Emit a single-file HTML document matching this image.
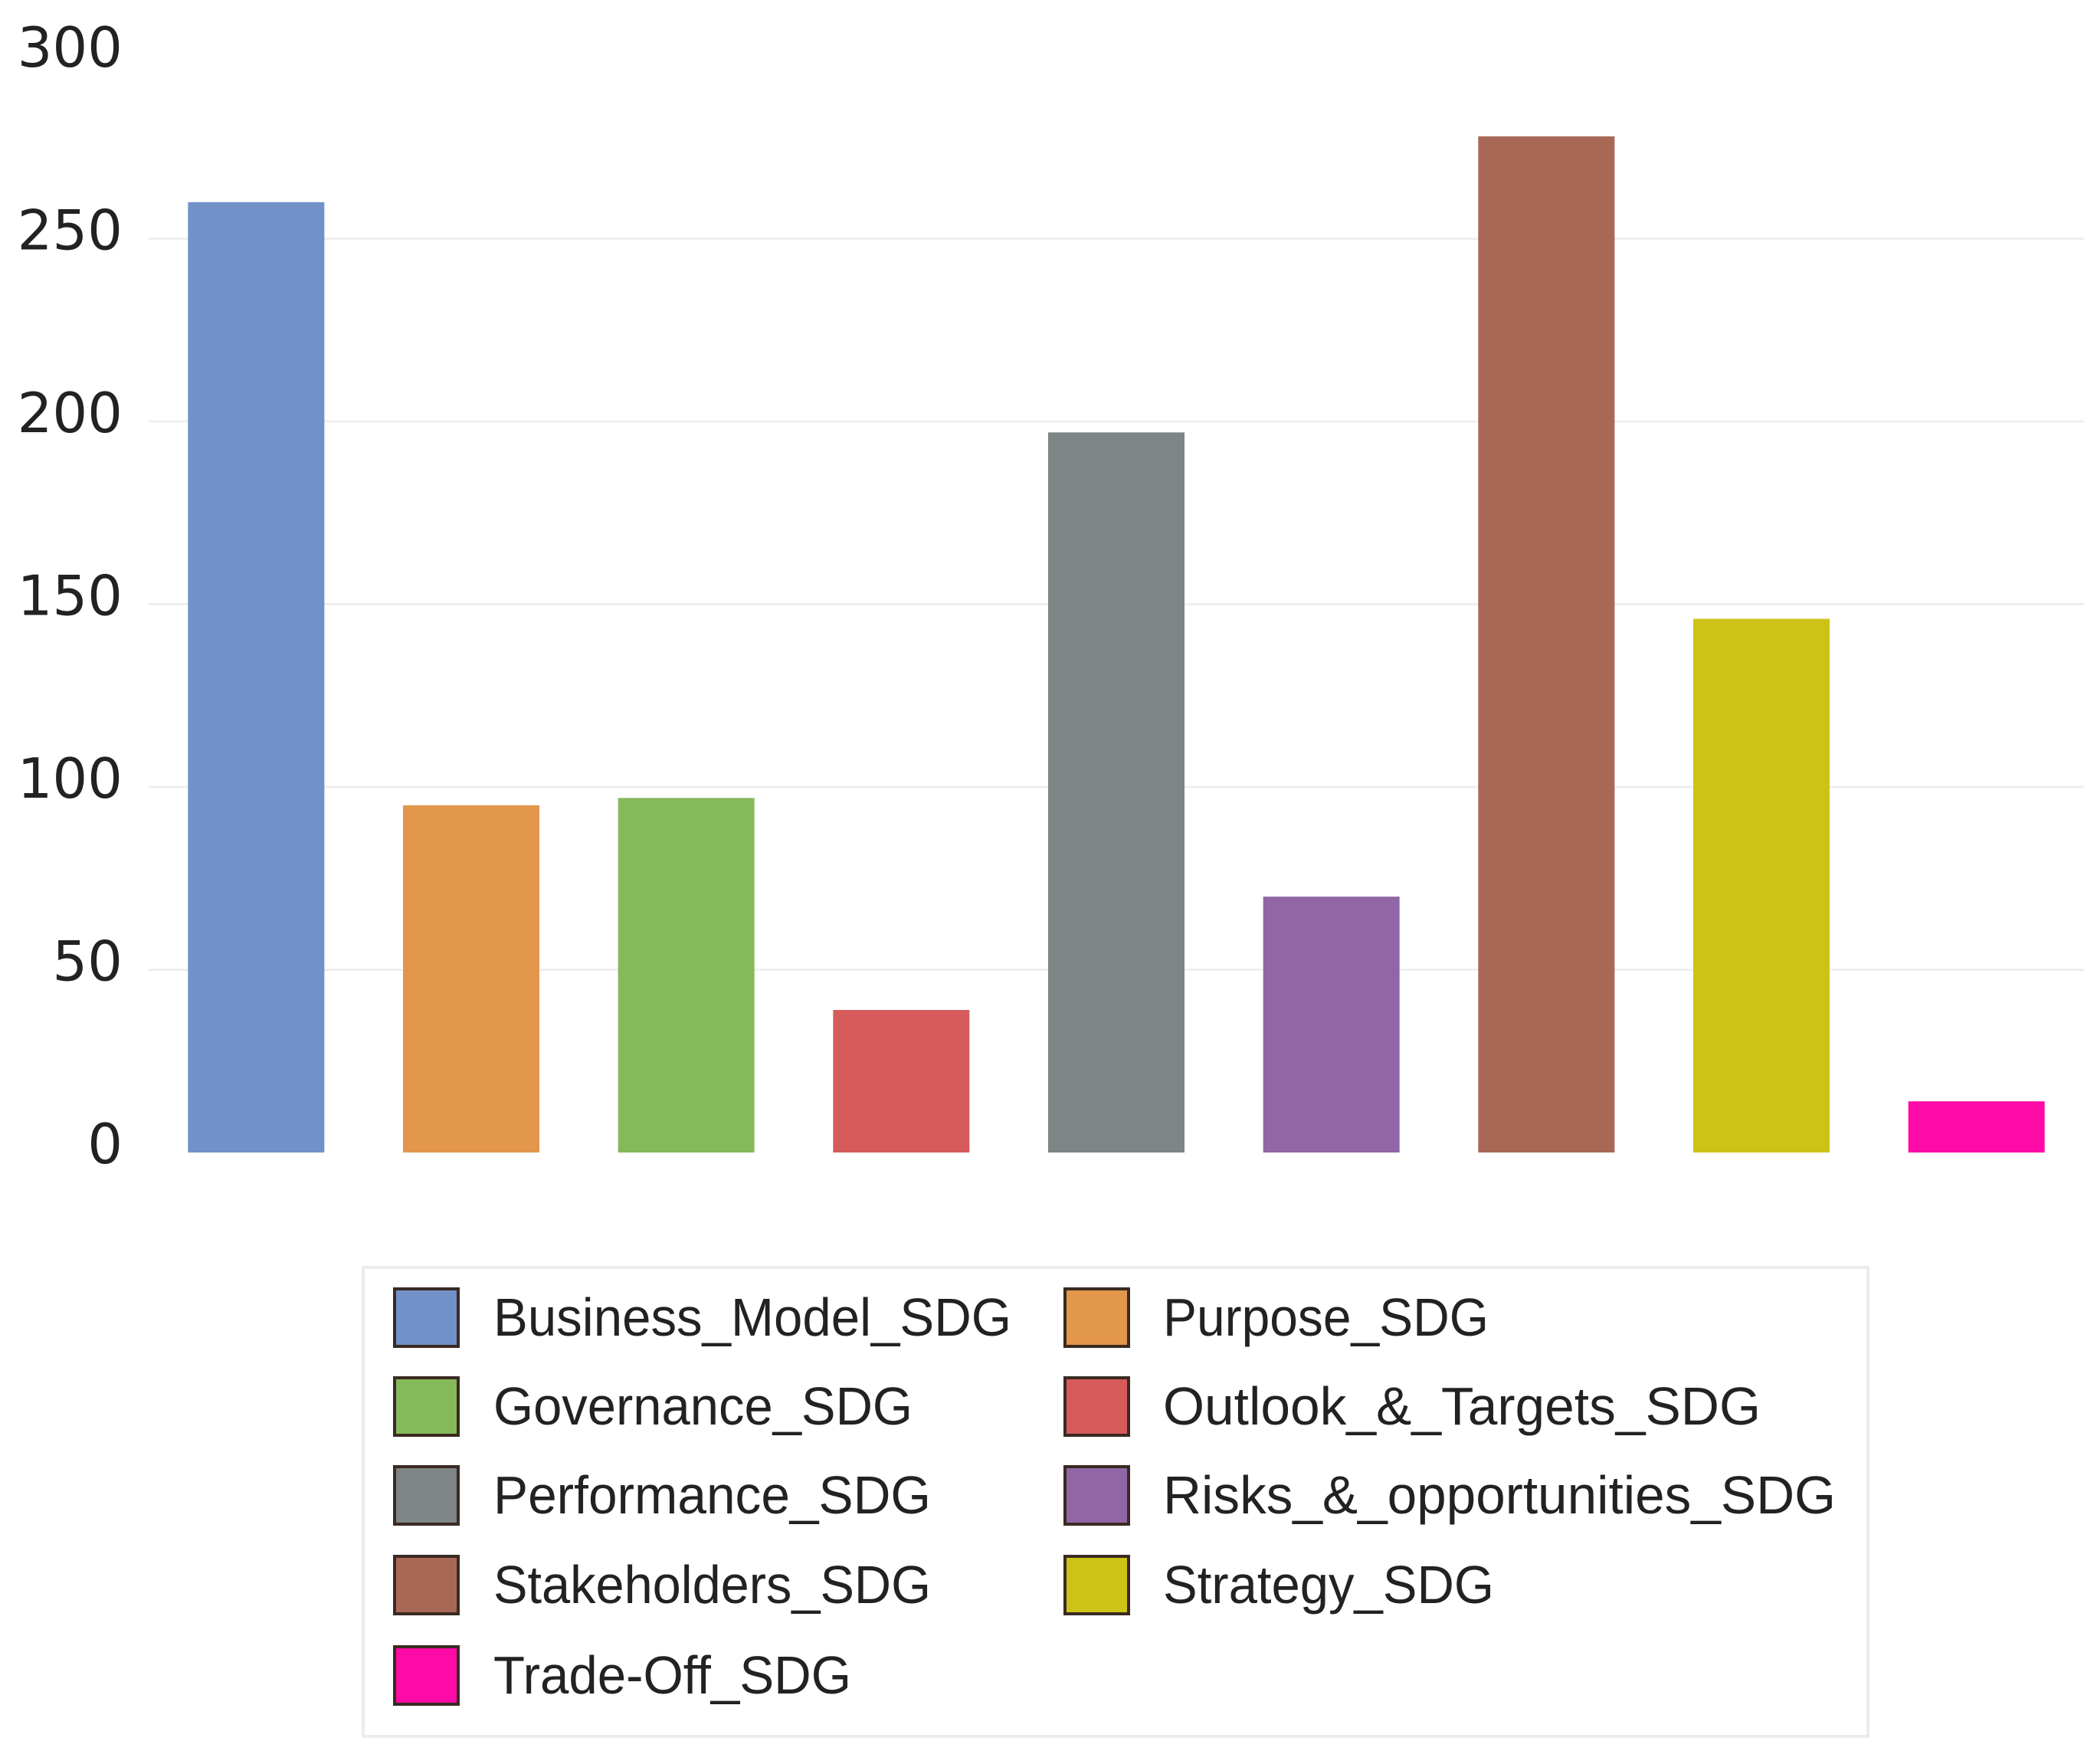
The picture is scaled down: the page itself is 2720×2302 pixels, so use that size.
<!DOCTYPE html>
<html><head><meta charset="utf-8"><style>
html,body{margin:0;padding:0;background:#fff;}
svg{display:block;}
</style></head><body>
<svg id="chart" width="2720" height="2302" viewBox="0 0 2720 2302" xmlns="http://www.w3.org/2000/svg">
<g id="grid"></g>
<g id="yaxis"></g>
<g id="bars"></g>
<rect x="474" y="1654" width="1964" height="612" fill="#fff" stroke="#ececec" stroke-width="4"/>
<g id="legend"></g>
</svg>
<script>
const categories = ["Business_Model_SDG","Purpose_SDG","Governance_SDG","Outlook_&_Targets_SDG","Performance_SDG","Risks_&_opportunities_SDG","Stakeholders_SDG","Strategy_SDG","Trade-Off_SDG"];
const values = [260, 95, 97, 39, 197, 70, 278, 146, 14];
const colors = ["#7092c8","#e2974c","#86b95a","#d65b5b","#7f8484","#9066a6","#a96856","#cdc316","#fd0aa7"];
const yTicks = [0, 50, 100, 150, 200, 250, 300];
const legendWidths = [676, 425, 547, 780, 571, 878, 571, 432, 467];

const NS = "http://www.w3.org/2000/svg";
const plotLeft = 194, plotRight = 2720, zeroY = 1504, pxPerUnit = 238.5/50;
const band = (plotRight - plotLeft) / categories.length, barW = 178;
function y(v){ return zeroY - v * pxPerUnit; }
function x(i){ return plotLeft + i * band + (band - barW) / 2; }
function mk(tag, attrs, parent){ const e = document.createElementNS(NS, tag); for (const k in attrs) e.setAttribute(k, attrs[k]); parent.appendChild(e); return e; }

const grid = document.getElementById('grid'), yaxis = document.getElementById('yaxis');
yTicks.forEach(t => {
  if (t > 0 && t < 300) {
    const l = mk('line', {x1: plotLeft, x2: plotRight, y1: y(t), y2: y(t), stroke: '#efefef', 'stroke-width': 3}, grid);
    
    
  }
  const tx = mk('text', {x: 160, y: y(t) + 14, 'text-anchor': 'end', 'font-family': 'DejaVu Sans, Liberation Sans, sans-serif', 'font-size': 72, fill: '#222'}, yaxis);
  tx.textContent = t;
  
  
});

const bars = document.getElementById('bars');
values.forEach((v, i) => {
  const r = mk('rect', {x: x(i), y: y(v), width: barW, height: zeroY - y(v), fill: colors[i]}, bars);
  
  
});

const legend = document.getElementById('legend');
const rowY = [1719, 1835, 1951, 2068, 2186];
categories.forEach((c, i) => {
  const row = Math.floor(i / 2), col = i % 2;
  const sx = col ? 1390 : 515, tx0 = col ? 1518 : 644, cy = rowY[row];
  const g = mk('g', {}, legend);
  
  
  const sw = mk('rect', {x: sx, y: cy - 37, width: 83, height: 75, fill: colors[i], stroke: '#3a2a22', 'stroke-width': 4}, g);
  
  
  const t = mk('text', {x: tx0, y: cy + 24, 'font-family': 'Liberation Sans Narrow, Liberation Sans, sans-serif', 'font-size': 70, fill: '#222', textLength: legendWidths[i], lengthAdjust: 'spacingAndGlyphs'}, g);
  t.textContent = c;
  
  
});
</script>
</body></html>
